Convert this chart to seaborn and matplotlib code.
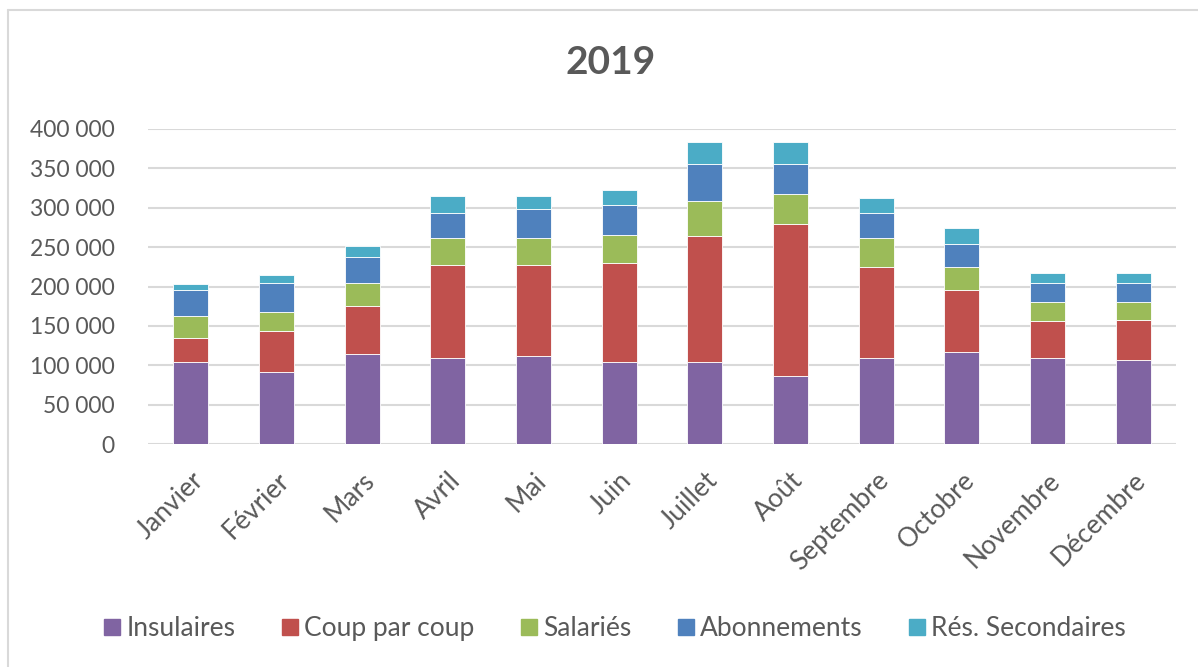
import numpy as np
import pandas as pd
import seaborn as sns
import matplotlib.pyplot as plt
from matplotlib.ticker import FuncFormatter
from matplotlib.lines import Line2D

# data (values in units)
months = ['Janvier', 'Février', 'Mars', 'Avril', 'Mai', 'Juin', 'Juillet',
          'Août', 'Septembre', 'Octobre', 'Novembre', 'Décembre']
insulaires = [104000, 91000, 114000, 109000, 112000, 104000, 104000, 87000, 109000, 117000, 109000, 107000]
coup_par_coup = [31000, 52000, 61000, 118000, 115000, 126000, 160000, 192000, 116000, 78000, 47000, 51000]
salaries = [28000, 25000, 30000, 34000, 34000, 36000, 44000, 39000, 36000, 30000, 24000, 22000]
abonnements = [32000, 37000, 32000, 32000, 37000, 37000, 47000, 37000, 32000, 29000, 25000, 25000]
res_secondaires = [8000, 9000, 15000, 22000, 17000, 20000, 29000, 29000, 20000, 20000, 12000, 12000]

series = ['Insulaires', 'Coup par coup', 'Salariés', 'Abonnements', 'Rés. Secondaires']
values = [insulaires, coup_par_coup, salaries, abonnements, res_secondaires]
colors = ['#8064A2', '#C0504D', '#9BBB59', '#4F81BD', '#4BACC6']

sns.set_style('white')
plt.rcParams['font.family'] = ['Lato', 'DejaVu Sans']
text_col = '#595959'

fig = plt.figure(figsize=(11.98, 6.67), dpi=100)
ax = fig.add_axes([0.1235, 0.3343, 0.8581, 0.4723])

bottom = np.zeros(len(months))
for name, vals, col in zip(series, values, colors):
    sns.barplot(x=months, y=vals, order=months, bottom=bottom, color=col,
                width=0.41, edgecolor='#ffffff', linewidth=0.6, ax=ax,
                saturation=1)
    bottom = bottom + np.array(vals)

ax.set_ylim(0, 400000)
ax.set_yticks(range(0, 400001, 50000))
ax.yaxis.set_major_formatter(FuncFormatter(lambda v, p: f'{int(v):,}'.replace(',', ' ')))
ax.grid(axis='y', color='#D9D9D9', linewidth=1.5)
ax.set_axisbelow(True)
for s in ax.spines.values():
    s.set_visible(False)

ax.tick_params(axis='y', length=0, pad=24, labelsize=16.5, labelcolor=text_col)
ax.tick_params(axis='x', length=0, pad=17, labelsize=19, labelcolor=text_col)
plt.setp(ax.get_xticklabels(), rotation=45, ha='right', rotation_mode='anchor')
ax.set_xlabel('')
ax.set_ylabel('')

fig.text(0.51, 0.907, '2019', ha='center', va='center', fontsize=28,
         fontweight='bold', color=text_col)

handles = [Line2D([], [], marker='s', linestyle='', markersize=12,
                  markerfacecolor=c, markeredgecolor=c) for c in colors]
fig.legend(handles, series, loc='center', bbox_to_anchor=(0.513, 0.058), ncol=5,
           frameon=False, fontsize=19, labelcolor=text_col, handlelength=0.7,
           handletextpad=0.2, columnspacing=1.7)

# chart area border (left and top visible)
fig.add_artist(Line2D([8 / 1198, 8 / 1198], [0, 1 - 10 / 667], color='#D9D9D9', lw=1.5))
fig.add_artist(Line2D([8 / 1198, 1], [1 - 10 / 667, 1 - 10 / 667], color='#D9D9D9', lw=1.5))

fig.savefig('out.png', dpi=100)
